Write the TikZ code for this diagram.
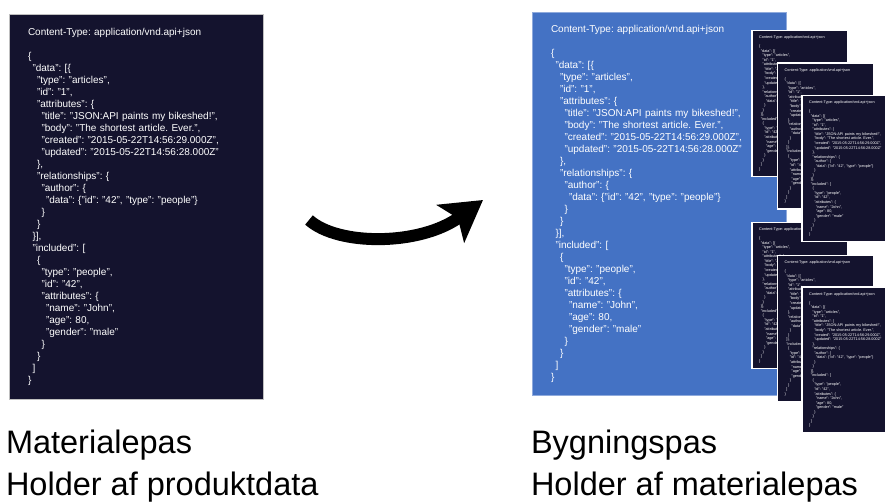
\documentclass[tikz,border=0pt]{standalone}
\usepackage{fontspec}
\setmainfont{Liberation Sans}
\usepackage{xcolor}
\usetikzlibrary{positioning,arrows.meta}
\frenchspacing
\definecolor{panelnavy}{HTML}{14132E}
\definecolor{panelblue}{HTML}{4472C4}
% indent of one json level
\newcommand{\ind}[1]{\hspace*{\dimexpr #1\fontdimen6\font*9/20\relax}}
\newcommand{\jsonlines}{%
Content-Type: application/vnd.api+json\\
~\\
\{\\
\ind1"data": [\{\\
\ind2"type": "articles",\\
\ind2"id": "1",\\
\ind2"attributes": \{\\
\ind3"title": "JSON:API paints my bikeshed!",\\
\ind3"body": "The shortest article. Ever.",\\
\ind3"created": "2015-05-22T14:56:29.000Z",\\
\ind3"updated": "2015-05-22T14:56:28.000Z"\\
\ind2\},\\
\ind2"relationships": \{\\
\ind3"author": \{\\
\ind4"data": \{"id": "42", "type": "people"\}\\
\ind3\}\\
\ind2\}\\
\ind1\}],\\
\ind1"included": [\\
\ind2\{\\
\ind3"type": "people",\\
\ind3"id": "42",\\
\ind3"attributes": \{\\
\ind4"name": "John",\\
\ind4"age": 80,\\
\ind4"gender": "male"\\
\ind3\}\\
\ind2\}\\
\ind1]\\
\}}
\tikzset{
  panel/.style={ % dark box holding the json text
    rectangle, fill=panelnavy, draw=gray!50, text=white,
    text width=216pt, inner xsep=19pt, align=left,
    minimum height=385pt,
    font=\fontsize{10}{12}\selectfont
  },
  bluepanel/.style={ % blue box of the building passport
    panel, fill=panelblue, draw=panelblue!60!white,
    minimum height=383pt
  },
  card/.style={ % small copy of a material passport
    panel, draw=white, line width=1.6pt,
    text width=81.6pt, inner xsep=7.2pt, inner ysep=1pt,
    minimum height=146pt,
    font=\fontsize{3.78}{4.54}\selectfont
  },
  caption/.style={
    align=left, inner sep=0pt, text=black,
    font=\fontsize{32.5}{42}\selectfont
  }
}
\begin{document}
\begin{tikzpicture}[x=1pt, y=-1pt]
      \useasboundingbox (0,0) rectangle (885,502);
      \clip (0,0) rectangle (885,502);

      \node[panel] (mat) at (136,206.5) {\jsonlines};
      \node[bluepanel] (byg) at (659,203.5) {\jsonlines};

      \node[card] (c1) at (800,103.5) {\jsonlines};
      \node[card] (c2) at (825.5,136) {\jsonlines};
      \node[card] (c4) at (800,295.5) {\jsonlines};
      \node[card] (c3) at (850,168.5) {\jsonlines};
      \node[card] (c5) at (825.5,328.5) {\jsonlines};
      \node[card] (c6) at (850,360) {\jsonlines};

      \node[caption] (mat_label) [below right=30.5pt and -3pt of mat.south west]
        {Materialepas\\Holder af produktdata};
      \node[caption] (byg_label) [below right=34.5pt and -1pt of byg.south west]
        {Bygningspas\\Holder af materialepas};

      \coordinate (arrowtail) at (309,220);
      \coordinate (arrowtip) at (483,200);
      \draw[line width=12pt, -{Stealth[length=40pt, width=46pt, inset=9pt]}]
        (arrowtail) .. controls (338,246) and (420,246) .. (arrowtip);
    \end{tikzpicture}
\end{document}
